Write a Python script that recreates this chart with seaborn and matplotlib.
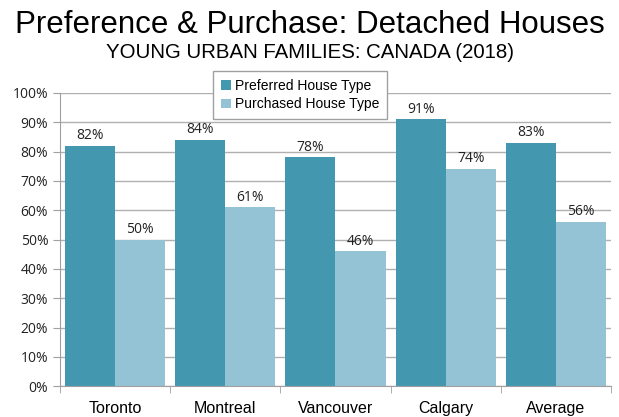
import matplotlib.pyplot as plt
import seaborn as sns
import pandas as pd
from matplotlib.ticker import PercentFormatter

cities = ['Toronto', 'Montreal', 'Vancouver', 'Calgary', 'Average']
preferred = [82, 84, 78, 91, 83]
purchased = [50, 61, 46, 74, 56]
series = ['Preferred House Type', 'Purchased House Type']

df = pd.DataFrame({
    'City': cities * 2,
    'Share': preferred + purchased,
    'Type': [series[0]] * len(cities) + [series[1]] * len(cities),
})

sns.set_style('white')
plt.rcParams['font.family'] = ['Liberation Sans', 'DejaVu Sans']
plt.rcParams['text.color'] = 'black'
plt.rcParams['xtick.color'] = 'black'
plt.rcParams['ytick.color'] = 'black'

fig = plt.figure(figsize=(6.19, 4.17), dpi=100)
ax = fig.add_axes([0.097, 0.074, 0.890, 0.703])

sns.barplot(data=df, x='City', y='Share', hue='Type', order=cities, hue_order=series,
            palette=['#4398B0', '#93C3D5'], width=0.91, saturation=1,
            edgecolor='none', linewidth=0, ax=ax)

for container in ax.containers:
    ax.bar_label(container, fmt='%d%%', padding=2, fontsize=10, family='Open Sans', color='#222222')

ax.set_ylim(0, 100)
ax.set_xlim(-0.5, len(cities) - 0.5)
ax.set_yticks(range(0, 101, 10))
ax.yaxis.set_major_formatter(PercentFormatter(decimals=0))
ax.grid(axis='y', color='#b0b0b0', linewidth=1)
ax.set_axisbelow(True)
for s in ['top', 'right']:
    ax.spines[s].set_visible(False)
ax.spines['left'].set_color('#a0a0a0')
ax.spines['bottom'].set_color('#a0a0a0')
ax.tick_params(axis='y', left=True, length=5, color='#a0a0a0', labelsize=10, labelcolor='#222222')
for lbl in ax.get_yticklabels():
    lbl.set_family('Open Sans')
ax.set_xticks([i - 0.5 for i in range(len(cities) + 1)], minor=True)
ax.tick_params(axis='x', which='minor', bottom=True, length=5, color='#a0a0a0')
ax.tick_params(axis='x', which='major', bottom=False, labelsize=11.5, pad=7, labelcolor='black')
ax.set_xlabel('')
ax.set_ylabel('')

ax.legend(loc='center', bbox_to_anchor=(0.436, 0.993), frameon=True, fancybox=False,
          edgecolor='#a0a0a0', fontsize=10, handlelength=0.7, handleheight=0.7,
          handletextpad=0.3, borderpad=0.55, labelspacing=0.35, framealpha=1,
          borderaxespad=0)

fig.text(0.5, 0.94, 'Preference & Purchase: Detached Houses', ha='center', va='center', fontsize=22.5)
fig.text(0.5, 0.873, 'YOUNG URBAN FAMILIES: CANADA (2018)', ha='center', va='center', fontsize=14.7)

fig.savefig('out.png', dpi=100)
